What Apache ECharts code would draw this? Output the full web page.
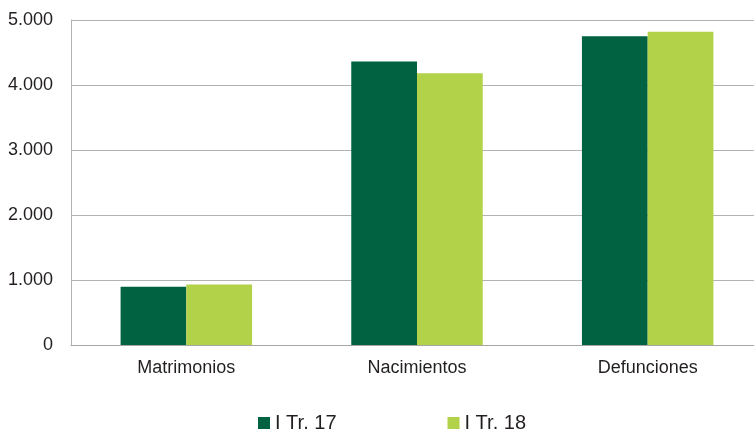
<!DOCTYPE html>
<html>
<head>
<meta charset="utf-8">
<script src="https://cdn.jsdelivr.net/npm/echarts@6/dist/echarts.min.js"></script>
<style>
  html, body { margin: 0; padding: 0; background: #fff; }
  #chart { width: 754px; height: 433px; }
</style>
</head>
<body>
<div id="chart"></div>
<script>
// datos
var categorias = ['Matrimonios', 'Nacimientos', 'Defunciones'];
var serieNombres = ['I Tr. 17', 'I Tr. 18'];
var valores17 = [895, 4360, 4750];
var valores18 = [930, 4180, 4820];
var colores = ['#006241', '#b1d249'];

var FUENTE = '"Liberation Sans", Arial, sans-serif';

// 5000 -> "5.000"
function formatoMiles(v) {
  return String(v).replace(/\B(?=(\d{3})+(?!\d))/g, '.');
}

var chart = echarts.init(document.getElementById('chart'));

var option = {
  animation: false,
  grid: {
    left: 71,
    top: 20,
    width: 692,
    bottom: 88,
    outerBoundsMode: 'none'
  },
  legend: {
    data: serieNombres,
    left: 253,
    top: 408,
    icon: 'rect',
    itemWidth: 12,
    itemHeight: 12,
    itemGap: 111,
    textStyle: {
      fontFamily: FUENTE,
      fontSize: 20,
      color: '#231f20'
    }
  },
  xAxis: {
    type: 'category',
    data: categorias,
    axisLine: { lineStyle: { color: '#a6a6a6', width: 1 } },
    axisTick: { show: false },
    axisLabel: {
      margin: 14,
      fontFamily: FUENTE,
      fontSize: 18,
      color: '#231f20'
    }
  },
  yAxis: {
    type: 'value',
    min: 0,
    max: 5000,
    interval: 1000,
    axisLine: { show: true, lineStyle: { color: '#b3b3b3', width: 1 } },
    axisTick: { show: false },
    splitLine: { lineStyle: { color: '#b3b3b3', width: 1 } },
    axisLabel: {
      margin: 18,
      fontFamily: FUENTE,
      fontSize: 18,
      color: '#231f20',
      formatter: formatoMiles
    }
  },
  series: [
    {
      name: serieNombres[0],
      type: 'bar',
      data: valores17,
      barGap: '0%',
      barCategoryGap: '43%',
      itemStyle: { color: colores[0] }
    },
    {
      name: serieNombres[1],
      type: 'bar',
      data: valores18,
      barGap: '0%',
      barCategoryGap: '43%',
      itemStyle: { color: colores[1] }
    }
  ]
};

chart.setOption(option);
</script>
</body>
</html>
